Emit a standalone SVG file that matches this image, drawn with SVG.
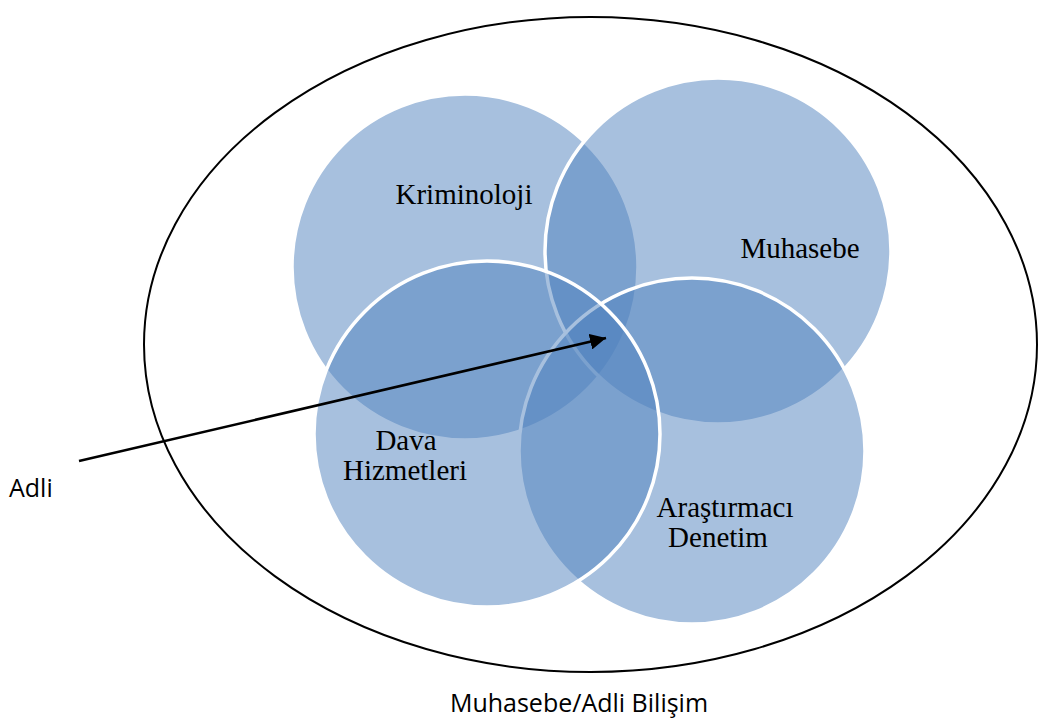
<svg xmlns="http://www.w3.org/2000/svg" width="1038" height="720" viewBox="0 0 1038 720">
<style>
.c{fill:#4f81bd;fill-opacity:0.5;stroke:#ffffff;stroke-width:3.5}
.t{font-family:"Liberation Serif","Times New Roman",serif;font-size:29px;fill:#000;text-anchor:middle}
.s{font-family:"Open Sans","Noto Sans",sans-serif;font-size:25px;fill:#000}
</style>
<defs>
<marker id="ah" markerUnits="userSpaceOnUse" markerWidth="18" markerHeight="16" refX="16" refY="8" orient="auto">
<path d="M0,0 L16,8 L0,16 z" fill="#000"/>
</marker>
</defs>
<rect width="1038" height="720" fill="#fff"/>
<g id="outer">
<ellipse cx="590.5" cy="344.5" rx="446.5" ry="327.5" fill="none" stroke="#000" stroke-width="2"/>
<text class="s" x="579" y="712" text-anchor="middle">Muhasebe/Adli Bilişim</text>
</g>
<g id="kriminoloji">
<circle class="c" cx="465" cy="267" r="173"/>
<text class="t" x="464" y="204">Kriminoloji</text>
</g>
<g id="muhasebe">
<circle class="c" cx="718" cy="251" r="173"/>
<text class="t" x="800" y="258">Muhasebe</text>
</g>
<g id="arastirmaci">
<circle class="c" cx="692" cy="451" r="173"/>
<text class="t" x="725" y="517">Araştırmacı</text>
<text class="t" x="718" y="547">Denetim</text>
</g>
<g id="dava">
<circle class="c" cx="487" cy="434" r="173"/>
<text class="t" x="406" y="450">Dava</text>
<text class="t" x="405" y="480">Hizmetleri</text>
</g>
<g id="adli">
<text class="s" x="9" y="497">Adli</text>
</g>
<g id="connectors">
<line x1="79" y1="461" x2="606" y2="338" stroke="#000" stroke-width="2.5" marker-end="url(#ah)"/>
</g>
</svg>
